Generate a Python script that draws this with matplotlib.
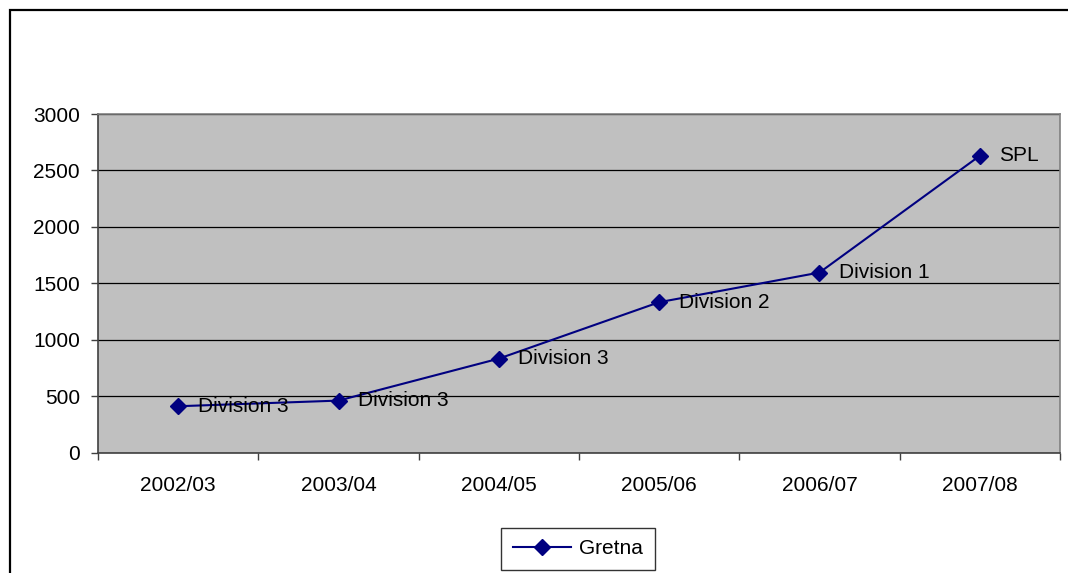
import matplotlib
matplotlib.use("Agg")
import matplotlib.pyplot as plt
import matplotlib.patches as mpatches
import numpy as np

plt.rcParams["font.family"] = ["Liberation Sans", "DejaVu Sans"]

# ── Data ──
seasons = ["2002/03", "2003/04", "2004/05", "2005/06", "2006/07", "2007/08"]
attendance = [410, 460, 832, 1332, 1595, 2630]
divisions = ["Division 3", "Division 3", "Division 3", "Division 2", "Division 1", "SPL"]
yticks = [0, 500, 1000, 1500, 2000, 2500, 3000]

NAVY = "#000080"
FS = 15

fig = plt.figure(figsize=(10.68, 5.73), dpi=100)
ax = fig.add_axes([98 / 1068, 1 - 452.5 / 573, (1060 - 98) / 1068, (452.5 - 114) / 573])

# outer chart border (runs off the right/bottom edge)
fig.patches.append(mpatches.Rectangle((10 / 1068, -0.2), 1.2, 1 - 10 / 573 + 0.2,
                                      transform=fig.transFigure, fill=False,
                                      edgecolor="black", linewidth=1.6))

ax.set_facecolor("#C0C0C0")
x = np.arange(len(seasons))
ax.plot(x, attendance, color=NAVY, linewidth=1.5, marker="D", markersize=8,
        markerfacecolor=NAVY, markeredgecolor=NAVY, label="Gretna", zorder=3)

for xi, yi, lab in zip(x, attendance, divisions):
    ax.annotate(lab, (xi, yi), xytext=(14, 0), textcoords="offset points",
                ha="left", va="center", fontsize=FS, color="black", zorder=4)

ax.set_xlim(-0.5, len(seasons) - 0.5)
ax.set_ylim(0, 3000)
ax.set_yticks(yticks)
ax.set_yticklabels([str(v) for v in yticks])
ax.yaxis.grid(True, color="black", linewidth=0.9)
ax.set_axisbelow(True)

ax.set_xticks(x)
ax.set_xticklabels(seasons)
ax.set_xticks(np.arange(-0.5, len(seasons)), minor=True)
ax.tick_params(axis="x", which="major", length=0, pad=17, labelsize=FS)
ax.tick_params(axis="x", which="minor", length=5, width=1, color="#404040", direction="out")
ax.tick_params(axis="y", length=5, width=1, color="#404040", pad=8, labelsize=FS)

for side in ["left", "bottom"]:
    ax.spines[side].set_color("#404040")
    ax.spines[side].set_linewidth(1.2)
for side in ["top", "right"]:
    ax.spines[side].set_color("#808080")
    ax.spines[side].set_linewidth(1.2)

leg = ax.legend(loc="center", bbox_to_anchor=(578 / 1068, 1 - 549 / 573),
                bbox_transform=fig.transFigure, fontsize=FS, frameon=True,
                fancybox=False, edgecolor="black", handlelength=2.8,
                borderpad=0.55, handletextpad=0.4)
leg.get_frame().set_linewidth(1.0)

fig.savefig("out.png", dpi=100)
